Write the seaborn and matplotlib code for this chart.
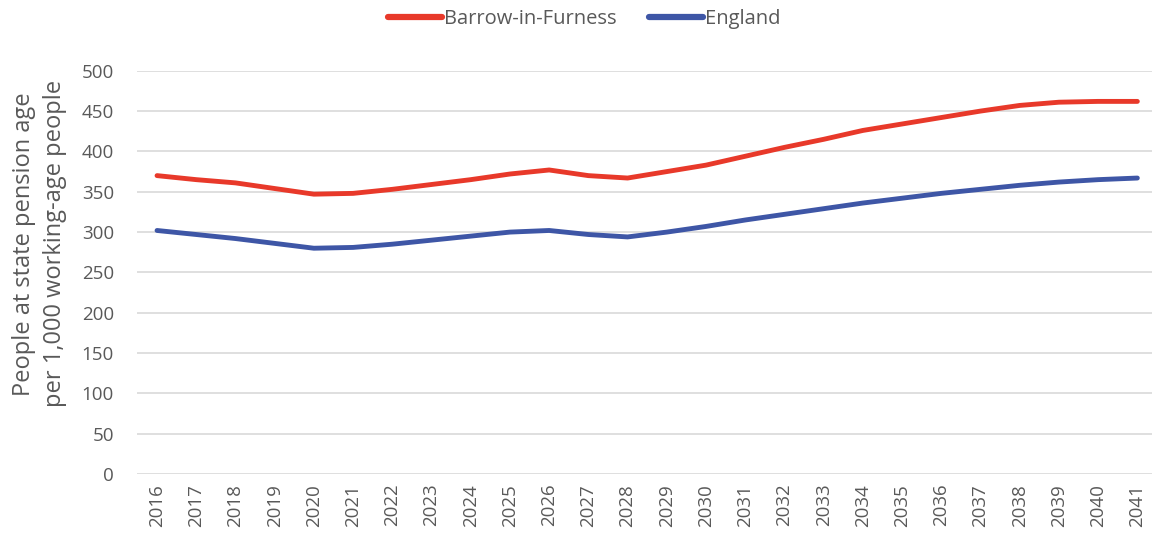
import pandas as pd
import numpy as np
import matplotlib.pyplot as plt
import seaborn as sns

# --- DATA ---
years = list(range(2016, 2042))
barrow = [370, 365, 361, 354, 347, 348, 353, 359, 365, 372, 377, 370, 367,
          375, 383, 394, 405, 415, 426, 434, 442, 450, 457, 461, 462, 462]
england = [302, 297, 292, 286, 280, 281, 285, 290, 295, 300, 302, 297, 294,
           300, 307, 315, 322, 329, 336, 342, 348, 353, 358, 362, 365, 367]
series_names = ['Barrow-in-Furness', 'England']
y_ticks = list(range(0, 501, 50))

# Set visual style
sns.set_theme(style="white")
plt.rcParams['font.family'] = ['Open Sans', 'DejaVu Sans']
text_grey = '#595959'
palette = {'Barrow-in-Furness': '#E8392A', 'England': '#3E56A6'}

df = pd.DataFrame({
    'Year': years * 2,
    'Value': barrow + england,
    'Area': [series_names[0]] * len(years) + [series_names[1]] * len(years),
})

fig = plt.figure(figsize=(11.52, 5.4), dpi=100)
ax = fig.add_axes([0.1193, 0.122, 0.885, 0.747])

sns.lineplot(data=df, x='Year', y='Value', hue='Area', palette=palette,
             linewidth=3.5, solid_capstyle='round', ax=ax, legend=False)

ax.set_xlim(2015.5, 2041.5)
ax.set_ylim(0, 500)
ax.set_yticks(y_ticks)
ax.set_xticks(years)
ax.set_xticklabels([str(y) for y in years], rotation=90)
ax.tick_params(axis='both', colors=text_grey, labelsize=13.5, length=0)
ax.tick_params(axis='y', pad=17)
ax.tick_params(axis='x', pad=7)
ax.yaxis.grid(True, color='#D9D9D9', linewidth=1.2)
ax.set_axisbelow(True)
for spine in ax.spines.values():
    spine.set_visible(False)

ax.set_xlabel('')
ax.set_ylabel('People at state pension age\nper 1,000 working-age people',
              color=text_grey, fontsize=17, linespacing=1.4)
ax.yaxis.set_label_coords(-0.069, 0.571)

handles = [plt.Line2D([0], [0], color=palette[n], linewidth=4.5, solid_capstyle='round')
           for n in series_names]
fig.legend(handles, series_names, loc='upper center', bbox_to_anchor=(0.507, 1.016),
           ncol=2, frameon=False, fontsize=14.5, handlelength=2.7, handletextpad=0.1,
           columnspacing=1.6, labelcolor=text_grey)

plt.savefig('out.png', dpi=100)
plt.close()
